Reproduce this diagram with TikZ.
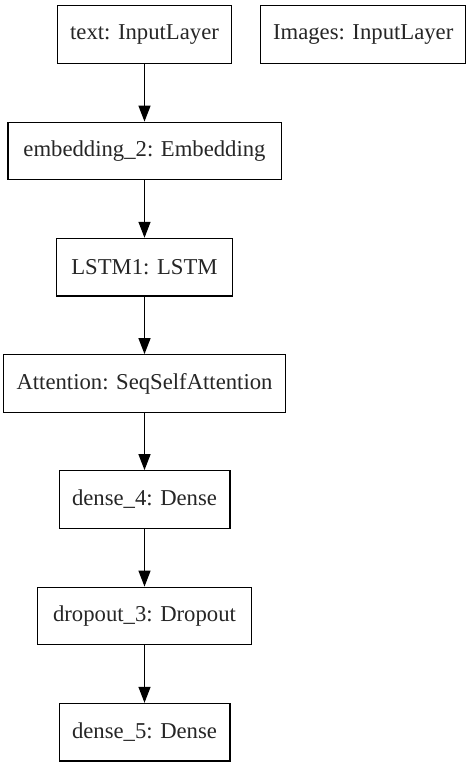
\documentclass[tikz,border=0pt]{standalone}
\usepackage{fontspec}
\setmainfont{Liberation Serif}
\usetikzlibrary{arrows.meta}
\begin{document}
\begin{tikzpicture}[x=1pt,y=-1pt,
  layer/.style={draw=black, line width=1.3pt, minimum height=57.5pt, inner sep=0pt,
    font=\fontsize{22.7}{26}\selectfont, text=black!85},
  conn/.style={line width=1.3pt, -{Triangle[length=16pt,width=12pt]}}]
\fill[white] (0,0) rectangle (470,767);
\useasboundingbox (0,0) rectangle (470,767);
\node[layer, minimum width=174.4pt] (text) at (144.5,34.5) {text: InputLayer};
\node[layer, minimum width=205pt] (images) at (363.2,34.5) {Images: InputLayer};
\node[layer, minimum width=273.3pt] (emb) at (144.5,151) {embedding\_2: Embedding};
\node[layer, minimum width=175.6pt] (lstm) at (144.5,267.2) {LSTM1: LSTM};
\node[layer, minimum width=281.7pt] (att) at (144.5,383.5) {Attention: SeqSelfAttention};
\node[layer, minimum width=170.7pt] (d4) at (144.5,499.5) {dense\_4: Dense};
\node[layer, minimum width=214.4pt] (drop) at (144.5,616) {dropout\_3: Dropout};
\node[layer, minimum width=170.7pt] (d5) at (144.5,732.2) {dense\_5: Dense};
\draw[conn] (text) -- (emb);
\draw[conn] (emb) -- (lstm);
\draw[conn] (lstm) -- (att);
\draw[conn] (att) -- (d4);
\draw[conn] (d4) -- (drop);
\draw[conn] (drop) -- (d5);
\end{tikzpicture}
\end{document}
